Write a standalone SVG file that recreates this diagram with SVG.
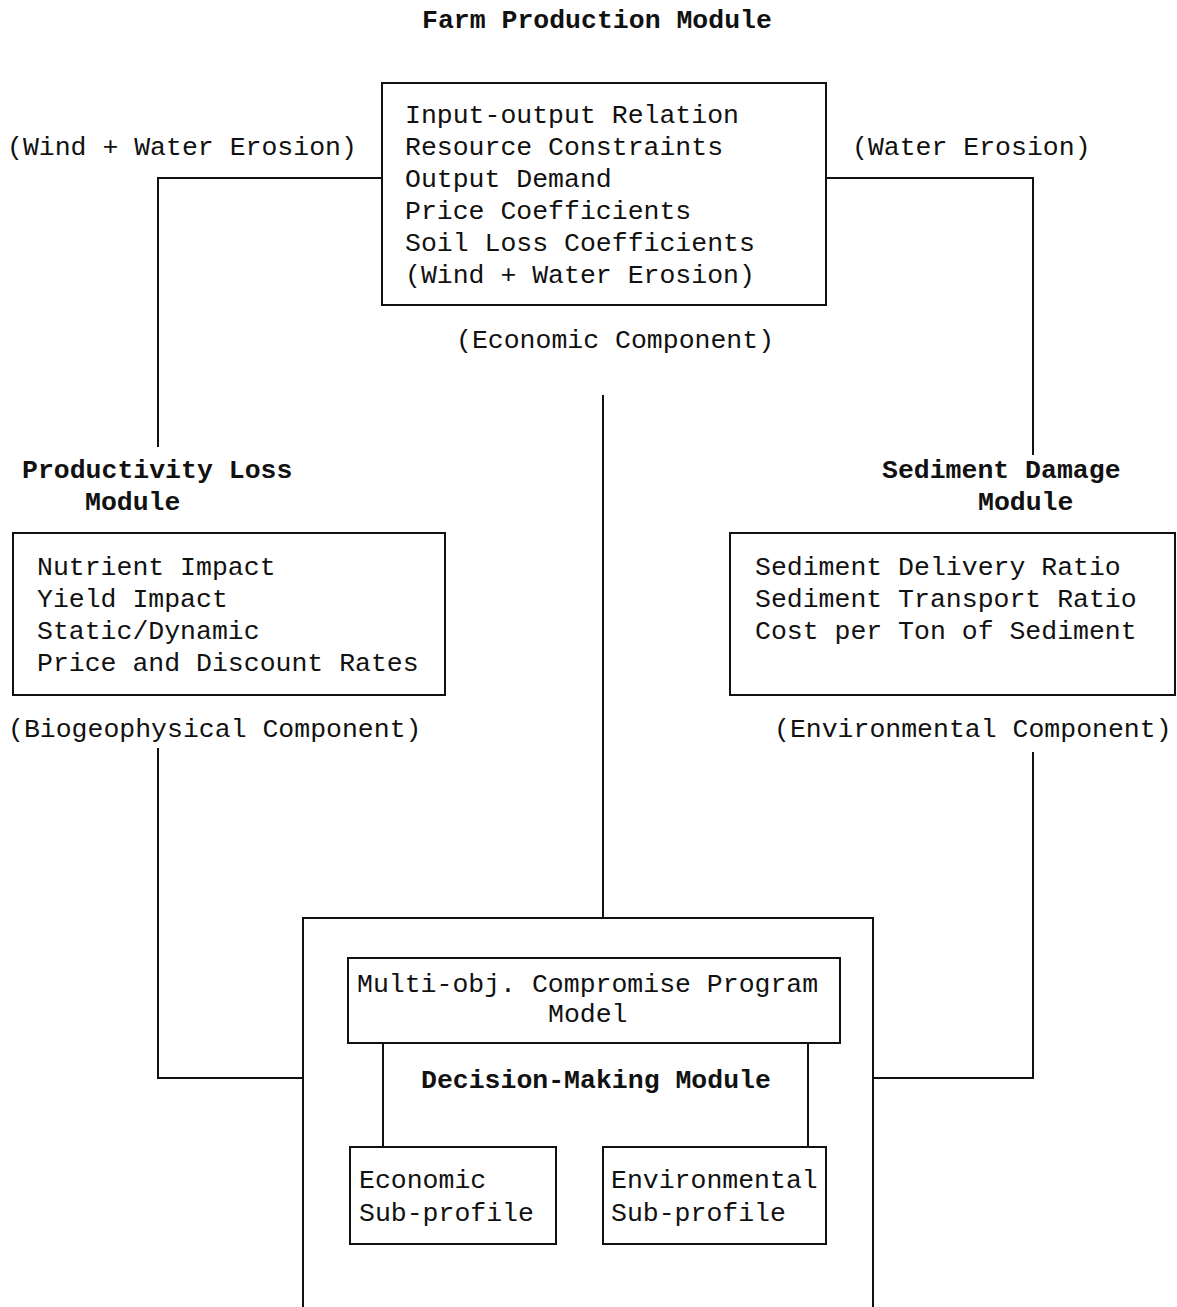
<svg xmlns="http://www.w3.org/2000/svg" width="1177" height="1307" viewBox="0 0 1177 1307">
<style>
text{font-family:"Liberation Mono","DejaVu Sans Mono",monospace;font-size:26.5px;fill:#111}
.b{font-weight:bold}
.box{fill:none;stroke:#111;stroke-width:2}
.ln{fill:none;stroke:#111;stroke-width:2}
</style>
<rect width="1177" height="1307" fill="#fff"/>
<text class="b" x="422" y="28">Farm Production Module</text>
<g id="farm">
<rect class="box" x="382" y="83" width="444" height="222"/>
<text x="405" y="123">Input-output Relation</text>
<text x="405" y="155">Resource Constraints</text>
<text x="405" y="187">Output Demand</text>
<text x="405" y="219">Price Coefficients</text>
<text x="405" y="251">Soil Loss Coefficients</text>
<text x="405" y="283">(Wind + Water Erosion)</text>
<text x="456" y="348">(Economic Component)</text>
</g>
<text x="7" y="155">(Wind + Water Erosion)</text>
<text x="852" y="155">(Water Erosion)</text>
<g id="productivity">
<text class="b" x="22" y="478">Productivity Loss</text>
<text class="b" x="85" y="510">Module</text>
<rect class="box" x="13" y="533" width="432" height="162"/>
<text x="37" y="575">Nutrient Impact</text>
<text x="37" y="607">Yield Impact</text>
<text x="37" y="639">Static/Dynamic</text>
<text x="37" y="671">Price and Discount Rates</text>
<text x="8" y="737">(Biogeophysical Component)</text>
</g>
<g id="sediment">
<text class="b" x="882" y="478">Sediment Damage</text>
<text class="b" x="978" y="510">Module</text>
<rect class="box" x="730" y="533" width="445" height="162"/>
<text x="755" y="575">Sediment Delivery Ratio</text>
<text x="755" y="607">Sediment Transport Ratio</text>
<text x="755" y="639">Cost per Ton of Sediment</text>
<text x="774" y="737">(Environmental Component)</text>
</g>
<g id="decision">
<path class="box" d="M303,1307 V918 H873 V1307"/>
<rect class="box" x="348" y="958" width="492" height="85"/>
<text x="357" y="992">Multi-obj. Compromise Program</text>
<text x="548" y="1022">Model</text>
<text class="b" x="421" y="1088">Decision-Making Module</text>
<line class="ln" x1="383" y1="1043" x2="383" y2="1147"/>
<line class="ln" x1="808" y1="1043" x2="808" y2="1147"/>
<g id="econ">
<rect class="box" x="350" y="1147" width="206" height="97"/>
<text x="359" y="1188">Economic</text>
<text x="359" y="1221">Sub-profile</text>
</g>
<g id="env">
<rect class="box" x="603" y="1147" width="223" height="97"/>
<text x="611" y="1188">Environmental</text>
<text x="611" y="1221">Sub-profile</text>
</g>
</g>
<g id="connectors">
<path class="ln" d="M382,178 H158 V447"/>
<path class="ln" d="M158,748 V1078 H303"/>
<path class="ln" d="M826,178 H1033 V455"/>
<path class="ln" d="M1033,752 V1078 H873"/>
<line class="ln" x1="603" y1="395" x2="603" y2="918"/>
</g>
</svg>
